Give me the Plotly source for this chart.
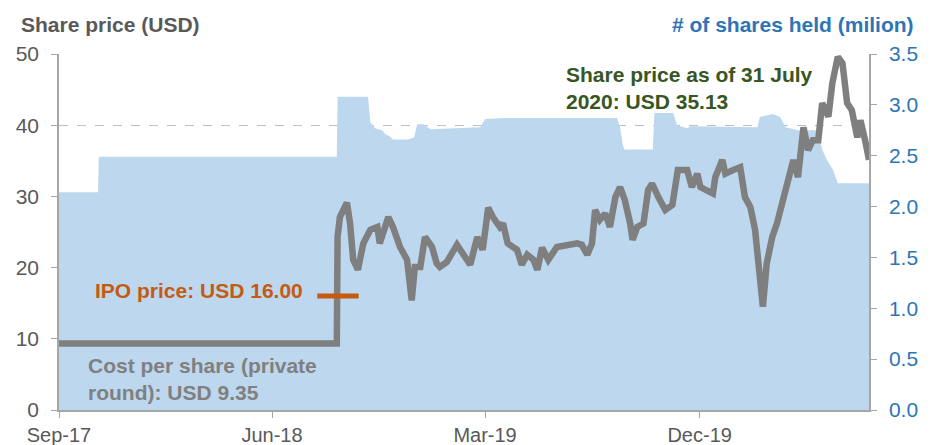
import plotly.graph_objects as go

# share price (USD)
price_dates = [
    "2017-09-01", "2018-08-23", "2018-08-24", "2018-08-27", "2018-09-05", "2018-09-09",
    "2018-09-13", "2018-09-19", "2018-09-26", "2018-10-05", "2018-10-14", "2018-10-17",
    "2018-10-28", "2018-11-03", "2018-11-12", "2018-11-21", "2018-11-27", "2018-12-01",
    "2018-12-08", "2018-12-14", "2018-12-23", "2018-12-29", "2019-01-02", "2019-01-11",
    "2019-01-24", "2019-02-01", "2019-02-10", "2019-02-19", "2019-02-26", "2019-03-05",
    "2019-03-11", "2019-03-20", "2019-03-24", "2019-03-30", "2019-04-11", "2019-04-17",
    "2019-04-24", "2019-05-02", "2019-05-07", "2019-05-13", "2019-05-21", "2019-06-01",
    "2019-06-14", "2019-06-27", "2019-07-03", "2019-07-10", "2019-07-16", "2019-07-20",
    "2019-07-26", "2019-08-02", "2019-08-08", "2019-08-15", "2019-08-21", "2019-08-27",
    "2019-09-03", "2019-09-06", "2019-09-12", "2019-09-20", "2019-09-26", "2019-10-01",
    "2019-10-09", "2019-10-18", "2019-10-27", "2019-11-03", "2019-11-15", "2019-11-21",
    "2019-11-28", "2019-12-02", "2019-12-18", "2019-12-21", "2019-12-30", "2020-01-03",
    "2020-01-13", "2020-01-22", "2020-01-28", "2020-02-04", "2020-02-10", "2020-02-14",
    "2020-02-20", "2020-02-25", "2020-03-03", "2020-03-09", "2020-03-16", "2020-03-22",
    "2020-03-30", "2020-04-05", "2020-04-12", "2020-04-18", "2020-04-24", "2020-05-01",
    "2020-05-06", "2020-05-14", "2020-05-19", "2020-05-26", "2020-06-01", "2020-06-07",
    "2020-06-13", "2020-06-20", "2020-06-24", "2020-06-30", "2020-07-05",
]
prices = [
    9.35, 9.35, 24.3, 27.1, 29.1, 26.2, 21.1, 19.7, 23.4, 25.3, 25.7, 23.4,
    27.1, 25.7, 22.9, 21.1, 15.4, 20.1, 20.1, 24.3, 22.9, 20.6, 20.1, 20.8,
    23.2, 22.0, 20.4, 24.3, 22.5, 28.4, 27.1, 25.7, 26.2, 23.4, 22.5, 20.4,
    21.8, 21.1, 19.7, 22.8, 21.1, 22.9, 23.2, 23.4, 23.2, 21.8, 23.4, 28.1,
    26.7, 27.6, 25.7, 29.9, 31.3, 29.5, 26.2, 23.9, 25.7, 26.2, 30.9, 31.8,
    29.9, 28.1, 28.8, 33.7, 33.7, 31.3, 33.2, 31.3, 30.4, 32.7, 35.1, 33.2,
    33.7, 34.1, 29.9, 28.5, 25.3, 20.1, 14.5, 20.6, 24.3, 26.2, 29.1, 31.8,
    35.1, 32.7, 39.7, 36.5, 37.9, 37.9, 43.1, 41.2, 45.9, 49.6, 48.7, 43.1,
    42.1, 38.3, 40.7, 37.9, 35.13,
]

# number of shares held (million)
share_dates = [
    "2017-09-01", "2017-10-21", "2017-10-22", "2018-08-23", "2018-08-24", "2018-10-02",
    "2018-10-05", "2018-10-11", "2018-10-20", "2018-10-24", "2018-10-30", "2018-11-03",
    "2018-11-22", "2018-11-30", "2018-12-04", "2018-12-12", "2018-12-21", "2019-02-23",
    "2019-03-01", "2019-03-27", "2019-08-17", "2019-08-21", "2019-08-25", "2019-08-27",
    "2019-10-02", "2019-10-04", "2019-10-28", "2019-11-02", "2019-11-15", "2019-11-19",
    "2020-02-13", "2020-02-16", "2020-03-04", "2020-03-13", "2020-03-20", "2020-04-05",
    "2020-04-30", "2020-05-06", "2020-05-12", "2020-05-20", "2020-05-26", "2020-07-05",
]
shares_m = [
    2.14, 2.14, 2.49, 2.49, 3.08, 3.08, 2.83, 2.77, 2.75, 2.71, 2.69, 2.66,
    2.66, 2.68, 2.81, 2.81, 2.76, 2.78, 2.86, 2.87, 2.87, 2.78, 2.59, 2.56,
    2.56, 2.92, 2.92, 2.80, 2.77, 2.79, 2.78, 2.88, 2.91, 2.88, 2.78, 2.75,
    2.75, 2.56, 2.46, 2.36, 2.23, 2.23,
]

# IPO price marker
ipo_dates = ["2018-07-29", "2018-09-20"]
ipo_price = [16.0, 16.0]

x_tickvals = ["2017-09-01", "2018-06-01", "2019-03-01", "2019-12-01"]
x_ticktext = ["Sep-17", "Jun-18", "Mar-19", "Dec-19"]

FONT = "Liberation Sans, Arial, sans-serif"
GREY_TXT = "#595959"
BLUE = "#2E75B6"
AXIS = "#A6A6A6"

fig = go.Figure()

# area on the primary (right-hand) axis so the price line sits on top
fig.add_trace(go.Scatter(
    x=share_dates, y=shares_m, yaxis="y",
    mode="lines", line=dict(width=0, color="#BDD7EE"),
    fill="tozeroy", fillcolor="#BDD7EE",
    showlegend=False, hoverinfo="skip",
))
fig.add_trace(go.Scatter(
    x=price_dates, y=prices, yaxis="y2",
    mode="lines", line=dict(color="#7F7F7F", width=6.5),
    showlegend=False,
))
fig.add_trace(go.Scatter(
    x=ipo_dates, y=ipo_price, yaxis="y2",
    mode="lines", line=dict(color="#C55A11", width=5),
    showlegend=False,
))

fig.update_layout(
    width=937, height=445,
    margin=dict(l=59, r=68, t=54, b=35, autoexpand=False),
    plot_bgcolor="white", paper_bgcolor="white",
    font=dict(family=FONT, size=20, color=GREY_TXT),
    xaxis=dict(
        range=["2017-09-01", "2020-07-05"],
        tickvals=x_tickvals, ticktext=x_ticktext,
        showgrid=False, showline=True, linecolor=AXIS, linewidth=1.5,
        ticks="outside", ticklen=6, tickcolor=AXIS,
        tickfont=dict(size=20, color=GREY_TXT),
    ),
    yaxis=dict(
        side="right", range=[0, 3.5], dtick=0.5, tickformat=".1f",
        showgrid=False, zeroline=False,
        showline=True, linecolor=AXIS, linewidth=1.5,
        ticks="outside", ticklen=6, tickcolor=AXIS,
        tickfont=dict(size=21, color=BLUE), ticklabelstandoff=8,
    ),
    yaxis2=dict(
        overlaying="y", side="left", range=[0, 50], dtick=10,
        showgrid=True, gridcolor="#BFBFBF", griddash="dash", gridwidth=1,
        zeroline=False,
        showline=True, linecolor=AXIS, linewidth=1.5,
        ticks="outside", ticklen=6, tickcolor=AXIS,
        tickfont=dict(size=21, color=GREY_TXT), ticklabelstandoff=8,
    ),
)

anns = [
    dict(text="<b>Share price (USD)</b>", x=-0.05, y=1.082, xanchor="left",
         font=dict(size=21, color=GREY_TXT)),
    dict(text="<b># of shares held (milion)</b>", x=1.058, y=1.084, xanchor="right",
         font=dict(size=21, color=BLUE)),
    dict(text="<b>Share price as of 31 July<br>2020: USD 35.13</b>", x=0.624, y=0.905,
         xanchor="left", align="left", font=dict(size=21, color="#375623")),
    dict(text="<b>IPO price: USD 16.00</b>", x=0.042, y=0.337, xanchor="left",
         font=dict(size=21, color="#C55A11")),
    dict(text="<b>Cost per share (private<br>round): USD 9.35</b>", x=0.033, y=0.086,
         xanchor="left", align="left", font=dict(size=21, color="#808080")),
]
for a in anns:
    fig.add_annotation(xref="paper", yref="paper", yanchor="middle",
                       showarrow=False, **a)

# drop the browser's default 8px body margin so the figure sits at (0, 0)
fig.write_html("out.html", config={"displayModeBar": False},
               post_script="document.body.style.margin='0';document.body.style.overflow='hidden';")
